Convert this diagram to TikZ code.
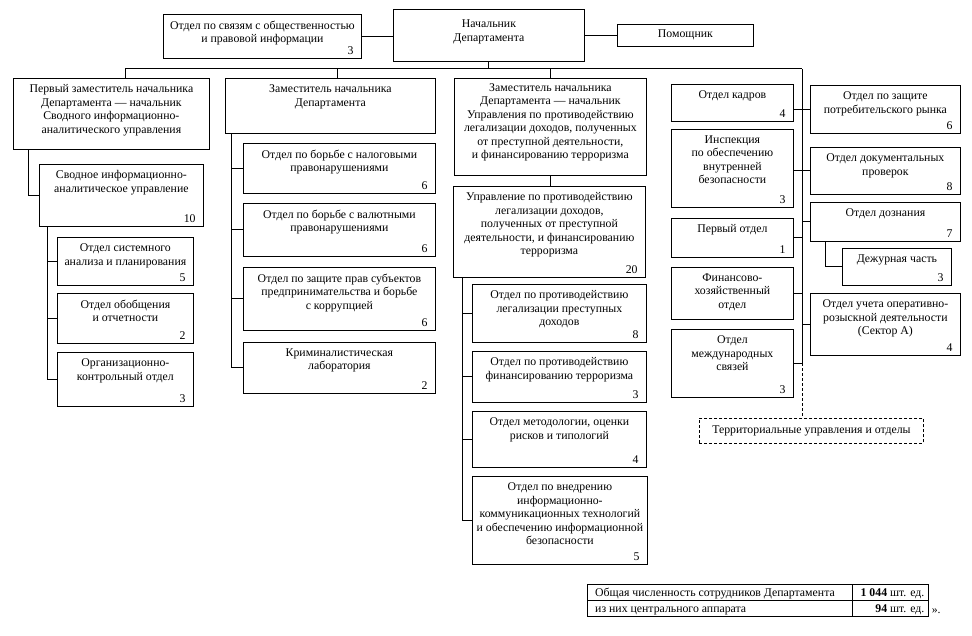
\documentclass[tikz,border=0pt]{standalone}
\usepackage{fontspec}
\setmainfont{Liberation Serif}
\usetikzlibrary{calc}
\newcommand\fs{\fontsize{11.8}{13.5}\selectfont}
\tikzset{
  x=1pt, y=-1pt,
  box/.style={draw=black, line width=0.8pt, inner sep=0pt, anchor=north west},
  lbl/.style={inner sep=0pt, align=center, anchor=north, font=\fs},
  num/.style={inner sep=0pt, anchor=south east, font=\fs},
  conn/.style={draw=black, line width=1pt},
  dots/.style={draw=black, line width=1pt, dash pattern=on 3pt off 2pt},
  cell/.style={draw=black, line width=0.6pt, inner sep=0pt, anchor=north west},
  ctext/.style={font=\fs, inner sep=0pt},
}
\newcommand\obox[8][6.5]{%
  \pgfmathsetmacro\bw{#5-#3}\pgfmathsetmacro\bh{#6-#4}%
  \node[box, minimum width=\bw pt, minimum height=\bh pt] (#2) at (#3,#4) {};
  \node[lbl, yshift=-#1pt] (#2-t) at (#2.north) {#7};
  \node[num, xshift=-8pt, yshift=4pt] (#2-n) at (#2.south east) {#8};
}
\begin{document}
\begin{tikzpicture}
\fill[white] (0,0) rectangle (972,636);
\useasboundingbox (0,0) rectangle (972,636);

% top
\obox{svyaz}{163}{14}{361}{58}{Отдел по связям с общественностью\\и правовой информации}{3}
\obox[11]{head}{393}{9}{584}{61}{Начальник\\Департамента}{}
\obox[6]{pom}{617}{24}{753}{46}{Помощник}{}

% column 1
\obox{zam1}{13}{78}{209}{149}{Первый заместитель начальника\\Департамента — начальник\\Сводного информационно-\\аналитического управления}{}
\obox{svod}{39}{164}{203}{226}{Сводное информационно-\\аналитическое управление}{10}
\obox{sist}{57}{237}{193}{285}{Отдел системного\\анализа и планирования}{5}
\obox{obob}{57}{293}{193}{343}{Отдел обобщения\\и отчетности}{2}
\obox{orgk}{57}{352}{193}{406}{Организационно-\\контрольный отдел}{3}

% column 2
\obox{zam2}{225}{78}{435}{133}{Заместитель начальника\\Департамента}{}
\obox{nalog}{243}{143}{435}{193}{Отдел по борьбе с налоговыми\\правонарушениями}{6}
\obox{valut}{243}{203}{435}{256}{Отдел по борьбе с валютными\\правонарушениями}{6}
\obox{prav}{243}{267}{435}{330}{Отдел по защите прав субъектов\\предпринимательства и борьбе\\с коррупцией}{6}
\obox{krim}{243}{342}{435}{393}{Криминалистическая\\лаборатория}{2}

% column 3
\obox[5]{zam3}{454}{78}{646}{175}{Заместитель начальника\\Департамента — начальник\\Управления по противодействию\\легализации доходов, полученных\\от преступной деятельности,\\и финансированию терроризма}{}
\obox{upr}{453}{186}{645}{277}{Управление по противодействию\\легализации доходов,\\полученных от преступной\\деятельности, и финансированию\\терроризма}{20}
\obox{leg}{472}{284}{646}{342}{Отдел по противодействию\\легализации преступных\\доходов}{8}
\obox{fin}{472}{351}{646}{402}{Отдел по противодействию\\финансированию терроризма}{3}
\obox{met}{472}{411}{646}{467}{Отдел методологии, оценки\\рисков и типологий}{4}
\obox{vned}{472}{476}{647}{564}{Отдел по внедрению\\информационно-\\коммуникационных технологий\\и обеспечению информационной\\безопасности}{5}

% column 4
\obox{kadr}{671}{84}{793}{121}{Отдел кадров}{4}
\obox{insp}{671}{129}{793}{207}{Инспекция\\по обеспечению\\внутренней\\безопасности}{3}
\obox{perv}{671}{218}{793}{257}{Первый отдел}{1}
\obox{finh}{671}{267}{793}{319}{Финансово-\\хозяйственный\\отдел}{}
\obox{mezh}{671}{329}{793}{397}{Отдел\\международных\\связей}{3}

% column 5
\obox{potr}{810}{85}{960}{133}{Отдел по защите\\потребительского рынка}{6}
\obox{dok}{810}{147}{960}{194}{Отдел документальных\\проверок}{8}
\obox{dozn}{810}{202}{960}{241}{Отдел дознания}{7}
\obox{dezh}{842}{248}{951}{285}{Дежурная часть}{3}
\obox{ucht}{810}{293}{960}{355}{Отдел учета оперативно-\\розыскной деятельности\\(Сектор А)}{4}

\node[box, dots, line width=0.9pt, minimum width=224pt, minimum height=25pt] (terr) at (699,418) {};
\node[ctext] (terr-t) at (terr.center) {Территориальные управления и отделы};

% connectors top
\draw[conn] (svyaz.east) -- (svyaz.east -| head.west);
\draw[conn] (head.east |- pom.west) -- (pom.west);
\coordinate (busL) at (125,69);
\coordinate (busR) at (802,69);
\coordinate (d2) at (337,69);
\draw[conn] (head.south) -- (head.south |- busL);
\draw[conn] (busL |- zam1.north) -- (busL) -- (busR);
\draw[conn] (d2) -- (d2 |- zam2.north);
\draw[conn] (zam3.north |- busL) -- (zam3.north);

% column 1
\draw[conn] ([xshift=15pt]zam1.south west) |- (svod.west);
\coordinate (t1) at ([xshift=8pt]svod.south west);
\draw[conn] (t1) |- (orgk.west);
\draw[conn] (t1 |- sist.west) -- (sist.west);
\draw[conn] (t1 |- obob.west) -- (obob.west);

% column 2
\coordinate (t2) at ([xshift=6pt]zam2.south west);
\draw[conn] (t2) |- (krim.west);
\draw[conn] (t2 |- nalog.west) -- (nalog.west);
\draw[conn] (t2 |- valut.west) -- (valut.west);
\draw[conn] (t2 |- prav.west) -- (prav.west);

% column 3
\draw[conn] (zam3.south) -- (zam3.south |- upr.north);
\coordinate (t3) at ([xshift=9pt]upr.south west);
\draw[conn] (t3) |- (vned.west);
\draw[conn] (t3 |- leg.west) -- (leg.west);
\draw[conn] (t3 |- fin.west) -- (fin.west);
\draw[conn] (t3 |- met.west) -- (met.west);

% right trunk
\coordinate (trunkEnd) at (busR |- mezh.east);
\draw[conn] (busR) -- (trunkEnd);
\draw[conn] (kadr.east |- potr.west) -- (potr.west);
\draw[conn] (insp.east |- dok.west) -- (dok.west);
\draw[conn] (perv.east) -- (perv.east -| busR);
\draw[conn] (busR |- dozn.west) -- (dozn.west);
\draw[conn] (finh.east) -- (finh.east -| busR);
\draw[conn] (busR |- ucht.west) -- (ucht.west);
\draw[conn] (mezh.east) -- (trunkEnd);
\draw[dots] (trunkEnd) -- (trunkEnd |- terr.north);
\draw[conn] ([xshift=15pt]dozn.south west) |- (dezh.west);

% table
\node[cell, minimum width=265pt, minimum height=16pt] (c11) at (587,584) {};
\node[cell, minimum width=76pt, minimum height=16pt] (c12) at (852,584) {};
\node[cell, minimum width=265pt, minimum height=16pt] (c21) at (587,600) {};
\node[cell, minimum width=76pt, minimum height=16pt] (c22) at (852,600) {};
\node[ctext, anchor=base west] (c11-t) at ([xshift=8pt, yshift=-4pt]c11.west) {Общая численность сотрудников Департамента};
\node[ctext, anchor=base east] (c12-t) at ([xshift=-4pt, yshift=-4pt]c12.east) {\textbf{1 044} шт. ед.};
\node[ctext, anchor=base west] (c21-t) at ([xshift=8pt, yshift=-4pt]c21.west) {из них центрального аппарата};
\node[ctext, anchor=base east] (c22-t) at ([xshift=-4pt, yshift=-4pt]c22.east) {\textbf{94} шт. ед.};
\node[ctext, anchor=base west] (quote) at ([xshift=3pt, yshift=-5pt]c22.east) {».};
\end{tikzpicture}
\end{document}
